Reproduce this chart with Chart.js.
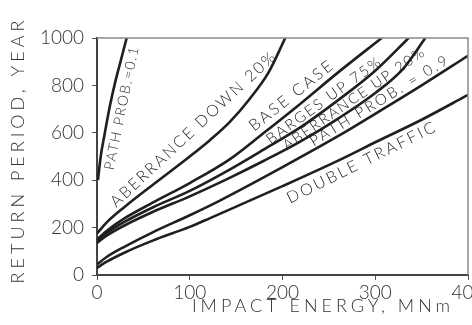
<!DOCTYPE html>
<html><head><meta charset="utf-8">
<script src="https://cdn.jsdelivr.net/npm/chart.js@4/dist/chart.umd.min.js"></script>
<style>html,body{margin:0;padding:0;overflow:hidden;background:#fff}#wrap{width:500px;height:325px}</style>
</head><body><div id="wrap"><canvas id="c" width="500" height="325"></canvas></div>
<script>
// ---- data ----
const xTicks = [0, 100, 200, 300, 400];
const yTicks = [0, 200, 400, 600, 800, 1000];

const pathProb01X = [1, 4, 8, 14, 20, 26, 32];
const pathProb01Y = [400, 500, 590, 715, 820, 910, 1000];

const aberrDownX = [0, 10, 30, 60, 100, 122, 143, 165, 185, 203];
const aberrDownY = [175, 220, 288, 380, 500, 570, 645, 745, 855, 1000];

const baseCaseX = [0, 10, 30, 60, 100, 143, 180, 220, 260, 307];
const baseCaseY = [150, 185, 240, 305, 388, 488, 600, 725, 855, 1000];

const bargesUpX = [0, 10, 30, 60, 100, 143, 180, 220, 260, 300, 336];
const bargesUpY = [145, 176, 225, 285, 355, 445, 530, 625, 738, 862, 1000];

const aberrUpX = [0, 10, 30, 60, 100, 143, 180, 220, 260, 300, 330, 354];
const aberrUpY = [135, 165, 210, 266, 332, 410, 482, 565, 660, 768, 870, 1000];

const pathProb09X = [0, 10, 30, 60, 100, 133, 200, 264, 300, 350, 400];
const pathProb09Y = [45, 75, 120, 180, 252, 315, 455, 595, 680, 800, 925];

const doubleTrafficX = [0, 10, 30, 60, 100, 122, 200, 264, 300, 350, 400];
const doubleTrafficY = [30, 55, 95, 145, 203, 240, 375, 490, 560, 655, 760];

const seriesLabels = ["PATH PROB.=0.1", "ABERRANCE DOWN 20%", "BASE CASE", "BARGES UP 75%",
                      "ABERRANCE UP 20%", "PATH PROB. = 0.9", "DOUBLE TRAFFIC"];
// impact energy at which each curve's label is centred
const labelAtX = [14, 118, 218, 250, 282, 310, 280];

// ---- styling / placement ----
const labelOffsetPx = [-12, 19, 12, 8, 7.5, 9, -12];
const labelAngleDeg = [null, -43, null, null, null, null, null];
const labelFontPx = [14, 16, 16, 15, 14.5, 15, 16];
const labelSpacing = ['1.5px', '2px', '2.5px', '2px', '2px', '2.5px', '2.5px'];
const INK = '#1f1f1f';
const FONT = 'Lato, "DejaVu Sans", sans-serif';

function pts(xs, ys) { return xs.map((x, i) => ({x: x, y: ys[i]})); }
const seriesData = [
  pts(pathProb01X, pathProb01Y), pts(aberrDownX, aberrDownY), pts(baseCaseX, baseCaseY),
  pts(bargesUpX, bargesUpY), pts(aberrUpX, aberrUpY), pts(pathProb09X, pathProb09Y),
  pts(doubleTrafficX, doubleTrafficY)
];

function interpY(data, x) {
  if (x <= data[0].x) return data[0].y;
  for (let i = 1; i < data.length; i++) {
    if (x <= data[i].x) {
      const a = data[i-1], b = data[i];
      return a.y + (b.y - a.y) * (x - a.x) / (b.x - a.x);
    }
  }
  return data[data.length-1].y;
}

const decorPlugin = {
  id: 'decor',
  afterDatasetsDraw(chart) {
    const ctx = chart.ctx, a = chart.chartArea;
    const xs = chart.scales.x, ys = chart.scales.y;
    ctx.save();
    // frame
    ctx.strokeStyle = '#8a8a8a'; ctx.lineWidth = 1.5;
    ctx.beginPath();
    ctx.moveTo(a.left, a.top); ctx.lineTo(a.right, a.top); ctx.lineTo(a.right, a.bottom);
    ctx.stroke();
    // curve labels
    ctx.fillStyle = INK;
    seriesData.forEach((data, i) => {
      const cx = labelAtX[i];
      const px = xs.getPixelForValue(cx), py = ys.getPixelForValue(interpY(data, cx));
      const dx = 2;
      const p1x = xs.getPixelForValue(cx - dx), p1y = ys.getPixelForValue(interpY(data, cx - dx));
      const p2x = xs.getPixelForValue(cx + dx), p2y = ys.getPixelForValue(interpY(data, cx + dx));
      let ang = Math.atan2(p2y - p1y, p2x - p1x);
      if (labelAngleDeg[i] !== null) ang = labelAngleDeg[i] * Math.PI / 180;
      const off = labelOffsetPx[i];
      const tx = px + Math.sin(ang) * off, ty = py - Math.cos(ang) * off;
      ctx.save();
      ctx.translate(tx, ty); ctx.rotate(ang);
      ctx.font = '300 ' + labelFontPx[i] + 'px ' + FONT;
      ctx.letterSpacing = labelSpacing[i];
      ctx.textAlign = 'center'; ctx.textBaseline = 'middle';
      ctx.fillText(seriesLabels[i], 0, 0);
      ctx.restore();
    });
    // axis titles
    ctx.font = '300 18px ' + FONT;
    ctx.letterSpacing = '4px';
    ctx.textAlign = 'center'; ctx.textBaseline = 'middle';
    ctx.fillStyle = '#333';
    ctx.fillText('IMPACT ENERGY, MNm', 323, 306);
    ctx.save();
    ctx.translate(18, 150); ctx.rotate(-Math.PI / 2);
    ctx.fillText('RETURN PERIOD, YEAR', 0, 0);
    ctx.restore();
    ctx.restore();
  }
};

const datasets = seriesData.map((d, i) => ({
  label: seriesLabels[i], data: d, showLine: true, borderColor: INK, backgroundColor: INK,
  borderWidth: 2.6, pointRadius: 0, cubicInterpolationMode: 'monotone', fill: false
}));

new Chart(document.getElementById('c'), {
  type: 'scatter',
  data: { datasets: datasets },
  options: {
    responsive: false, animation: false, devicePixelRatio: 1,
    layout: { padding: { top: 38, right: 32, left: 0, bottom: 0 } },
    plugins: { legend: { display: false }, tooltip: { enabled: false } },
    scales: {
      x: {
        type: 'linear', min: 0, max: 400,
        afterBuildTicks: s => { s.ticks = xTicks.map(v => ({value: v})); },
        afterFit: s => { s.height = 50; },
        grid: { drawOnChartArea: false, drawTicks: true, tickLength: 5, color: '#555' },
        border: { display: true, color: '#444', width: 2 },
        ticks: { color: '#333', padding: 1, font: { family: FONT, size: 19, weight: 300 },
                 callback: v => String(v) }
      },
      y: {
        type: 'linear', min: 0, max: 1000,
        afterBuildTicks: s => { s.ticks = yTicks.map(v => ({value: v})); },
        afterFit: s => { s.width = 97; },
        grid: { drawOnChartArea: false, drawTicks: true, tickLength: 5, color: '#555' },
        border: { display: true, color: '#444', width: 2 },
        ticks: { color: '#333', padding: 8, font: { family: FONT, size: 19, weight: 300 },
                 callback: v => String(v) }
      }
    }
  },
  plugins: [decorPlugin]
});
</script>
</body></html>
